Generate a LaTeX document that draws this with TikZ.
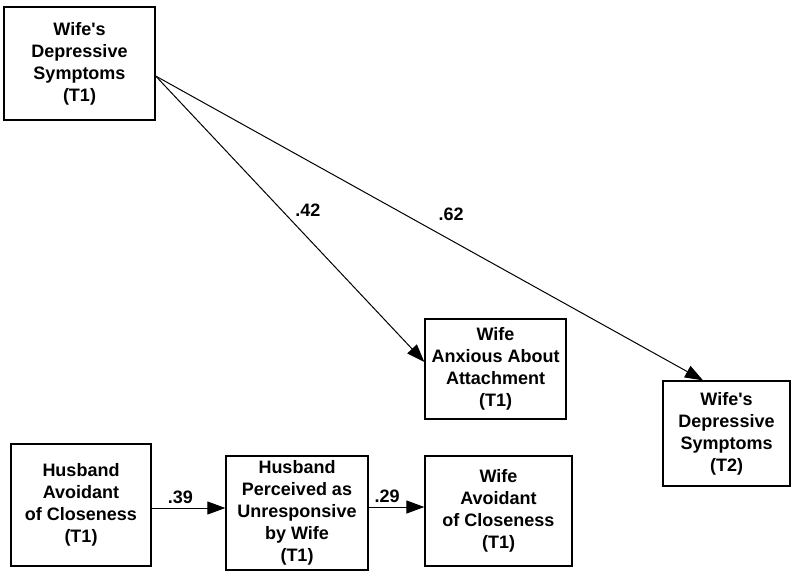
\documentclass[tikz,border=0pt]{standalone}
\usepackage{fontspec}
\setmainfont{Liberation Sans}
\usetikzlibrary{arrows.meta}

\begin{document}
\begin{tikzpicture}[x=1pt,y=-1pt,
    varbox/.style={draw,line width=1.3pt,align=center,inner sep=0pt,font=\boxfontsize\bfseries},
    pathline/.style={line width=1pt,-{Triangle[length=18pt,width=13pt]}},
    coef/.style={font=\boxfontsize\bfseries,inner sep=1pt}]
    \providecommand{\boxfontsize}{\fontsize{18pt}{22pt}\selectfont}
    \providecommand{\ap}{\textquotesingle}
    \useasboundingbox (0,0) rectangle (791,573);
    \node[varbox,minimum width=151pt,minimum height=113pt] (wdepone) at (79.5,63.5) {Wife\ap s\\Depressive\\Symptoms\\(T1)};
    \node[varbox,minimum width=141pt,minimum height=100pt] (wanx) at (495.5,369) {Wife\\Anxious About\\Attachment\\(T1)};
    \node[varbox,minimum width=127pt,minimum height=105pt] (wdeptwo) at (726.5,433.5) {Wife\ap s\\Depressive\\Symptoms\\(T2)};
    \node[varbox,minimum width=140pt,minimum height=122pt] (havoid) at (81,505) {Husband\\Avoidant\\of Closeness\\(T1)};
    \node[varbox,minimum width=142pt,minimum height=114pt] (hunresp) at (297,513) {Husband\\Perceived as\\Unresponsive\\by Wife\\(T1)};
    \node[varbox,minimum width=147pt,minimum height=110pt] (wavoid) at (498.5,511) {Wife\\Avoidant\\of Closeness\\(T1)};
    % paths
    \draw[pathline] ([yshift=-12.5pt]wdepone.east) -- ([yshift=7pt]wanx.west)
        node[coef,pos=0.47,anchor=west,xshift=12pt] {.42};
    \draw[pathline] ([yshift=-12.5pt]wdepone.east) -- ([xshift=-23.5pt]wdeptwo.north)
        node[coef,pos=0.54,anchor=south,yshift=18pt] {.62};
    \draw[pathline] ([yshift=-3pt]havoid.east) -- ([yshift=-3pt]havoid.east -| hunresp.west)
        node[coef,pos=0.39,anchor=south,yshift=3pt] {.39};
    \draw[pathline] ([yshift=6pt]hunresp.east) -- ([yshift=6pt]hunresp.east -| wavoid.west)
        node[coef,pos=0.33,anchor=south,yshift=3pt] {.29};
\end{tikzpicture}
\end{document}
